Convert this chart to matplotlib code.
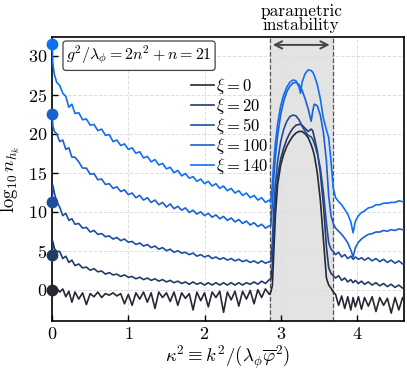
import numpy as np
import matplotlib
matplotlib.use('Agg')
import matplotlib.pyplot as plt

plt.rcParams['font.family'] = 'serif'
plt.rcParams['font.serif'] = ['cmr10', 'DejaVu Serif']
plt.rcParams['mathtext.fontset'] = 'cm'
plt.rcParams['axes.formatter.use_mathtext'] = True
plt.rcParams['font.size'] = 13

# sample positions in kappa^2 (left of band, inside band, right of band)
x_left = [0, 0.01, 0.03, 0.06, 0.1, 0.14, 0.18, 0.22, 0.26, 0.3, 0.35, 0.4, 0.45, 0.5,
          0.55, 0.6, 0.65, 0.7, 0.75, 0.8, 0.85, 0.9, 0.95, 1.0, 1.05, 1.1, 1.15, 1.2,
          1.25, 1.3, 1.35, 1.4, 1.45, 1.5, 1.55, 1.6, 1.65, 1.7, 1.75, 1.8, 1.85, 1.9,
          1.95, 2.0, 2.05, 2.1, 2.15, 2.2, 2.25, 2.3, 2.35, 2.4, 2.45, 2.5, 2.55, 2.6,
          2.65, 2.7, 2.75, 2.8, 2.85]
x_band = [2.87, 2.89, 2.91, 2.93, 2.96, 3.0, 3.04, 3.08, 3.12, 3.16, 3.2, 3.24, 3.26,
          3.28, 3.32, 3.36, 3.4, 3.42, 3.44, 3.48, 3.52, 3.56, 3.6, 3.63, 3.66, 3.69]
x_right = [3.72, 3.76, 3.8, 3.84, 3.88, 3.92, 3.95, 3.98, 4.02, 4.06, 4.1, 4.15, 4.2,
           4.25, 4.3, 4.35, 4.4, 4.45, 4.5, 4.55, 4.6, 4.63]

xi_labels = ['0', '20', '50', '100', '140']
colors = ['#262833', '#243a66', '#1e4c9e', '#1b5fd2', '#0f6ff2']

# log10 n_hk for each xi
y_xi0 = [0, 0.1, 0.3, 0.2, -0.3, 0.1, -0.9, -0.2, -1.6, -0.3, -1.2, -0.4, -1.9, -0.5,
         -0.9, -0.3, -1.0, -0.5, -0.7, -0.4, -0.8, -0.5, -1.8, -0.6, -2.0, -0.4, -1.2, -0.3,
         -1.6, -0.4, -2.4, -0.3, -1.0, -0.4, -1.5, -0.3, -2.0, -0.4, -1.1, -0.5, -2.6, -0.3,
         -1.4, -0.4, -2.2, -0.3, -1.0, -0.2, -2.9, -0.3, -1.3, -0.2, -2.1, -0.2, -1.2, -0.1,
         -1.8, 0.0, -1.0, 0.1, -0.6] + \
        [-0.3, 0.5, 5.0, 9.5, 13.5, 16.0, 17.4, 18.4, 19.1, 19.7, 20.1, 20.3, 20.3,
         20.3, 20.0, 19.5, 18.6, 18.0, 17.3, 15.0, 11.5, 6.5, 1.5, 0.6, 0.2, -0.3] + \
        [-0.6, -2.0, -0.8, -2.4, -0.9, -2.6, -1.0, -2.2, -0.9, -2.5, -1.0, -2.1, -0.9,
         -2.8, -1.0, -2.0, -1.1, -3.0, -1.0, -2.6, -1.0, -1.6]

y_xi20 = [4.5, 6.2, 5.3, 4.9, 4.9, 4.0, 4.3, 3.5, 3.8, 3.1, 3.3, 2.8, 2.9, 2.5,
          2.7, 2.3, 2.4, 2.0, 2.2, 1.9, 2.0, 1.7, 1.9, 1.6, 1.7, 1.4, 1.6, 1.3,
          1.5, 1.2, 1.4, 1.1, 1.3, 1.0, 1.2, 0.9, 1.1, 0.8, 1.0, 0.7, 1.0, 0.7,
          0.9, 0.6, 0.9, 0.6, 0.9, 0.6, 0.9, 0.6, 0.9, 0.6, 0.9, 0.6, 0.9, 0.7,
          1.0, 0.7, 1.1, 0.8, 1.3] + \
         [1.3, 3.0, 8.0, 11.5, 14.5, 16.8, 18.2, 19.3, 20.1, 20.7, 21.1, 21.2, 21.2,
          21.1, 20.7, 20.3, 20.6, 20.4, 19.6, 17.8, 15.0, 11.0, 5.5, 2.8, 2.1, 1.8] + \
         [1.5, 1.8, 1.2, 1.5, 1.0, 1.3, 0.9, 1.2, 0.8, 1.1, 0.7, 1.0, 0.6,
          0.9, 0.5, 0.8, 0.4, 0.7, 0.3, 0.6, 0.2, 0.4]

y_xi50 = [11.2, 13.4, 12.4, 11.3, 10.6, 9.5, 9.8, 8.9, 9.1, 8.4, 8.5, 7.9, 8.0, 7.4,
          7.6, 7.1, 7.2, 6.8, 6.9, 6.5, 6.7, 6.3, 6.5, 6.1, 6.2, 5.8, 6.0, 5.6,
          5.8, 5.4, 5.6, 5.2, 5.4, 5.0, 5.2, 4.8, 5.0, 4.7, 4.8, 4.5, 4.7, 4.3,
          4.5, 4.2, 4.4, 4.0, 4.2, 3.9, 4.1, 3.8, 4.0, 3.7, 3.9, 3.6, 3.8, 3.5,
          3.7, 3.4, 3.7, 3.4, 3.6] + \
         [3.6, 6.0, 10.5, 13.5, 16.5, 19.0, 20.6, 21.6, 22.2, 22.4, 22.3, 21.8, 21.4,
          21.0, 20.3, 19.8, 19.6, 19.3, 18.8, 17.5, 15.6, 12.5, 8.5, 6.0, 5.2, 4.9] + \
         [4.5, 4.8, 4.2, 4.5, 4.0, 4.3, 3.9, 4.2, 3.9, 4.1, 3.8, 4.1, 3.7,
          4.0, 3.6, 3.9, 3.5, 3.8, 3.4, 3.7, 3.3, 3.5]

y_xi100 = [22.5, 21.0, 20.3, 20.0, 19.0, 19.2, 18.0, 18.2, 17.0, 17.0, 16.4, 15.6, 15.6, 14.8,
           14.9, 14.1, 14.2, 13.5, 13.6, 13.0, 13.2, 12.6, 12.8, 12.2, 12.4, 11.8, 12.1, 11.5,
           11.8, 11.2, 11.5, 10.9, 11.2, 10.6, 11.0, 10.4, 10.7, 10.2, 10.5, 9.9, 10.2, 9.7,
           10.0, 9.5, 9.8, 9.3, 9.6, 9.1, 9.4, 8.9, 9.2, 8.7, 9.0, 8.5, 8.8, 8.3,
           8.6, 8.1, 8.4, 7.9, 8.2] + \
          [8.2, 11.0, 14.5, 17.0, 19.8, 22.5, 24.2, 25.4, 26.1, 26.5, 26.6, 26.3, 26.0,
           25.6, 24.5, 23.2, 21.6, 22.9, 23.8, 23.6, 22.4, 20.2, 16.5, 12.0, 9.5, 8.5] + \
          [7.9, 7.5, 7.1, 6.6, 6.0, 5.1, 4.2, 5.4, 6.1, 6.5, 6.8, 7.1, 7.2,
           7.4, 7.4, 7.6, 7.5, 7.7, 7.6, 7.8, 7.7, 7.8]

y_xi140 = [31.5, 29.0, 27.6, 26.6, 26.2, 25.2, 24.8, 23.4, 23.8, 22.6, 22.7, 21.8, 21.9, 21.1,
           21.2, 20.4, 20.6, 19.8, 19.9, 19.0, 19.2, 18.5, 18.7, 18.0, 18.2, 17.5, 17.7, 16.9,
           17.1, 16.4, 16.7, 16.0, 16.2, 15.5, 15.7, 15.0, 15.3, 14.6, 14.9, 14.3, 14.5, 13.9,
           14.2, 13.6, 13.9, 13.3, 13.6, 13.0, 13.3, 12.7, 13.0, 12.4, 12.7, 12.1, 12.4, 11.8,
           12.1, 11.5, 11.8, 11.2, 11.5] + \
          [11.2, 13.5, 16.5, 18.8, 21.3, 23.6, 25.0, 26.0, 26.6, 26.9, 26.8, 26.0, 25.2,
           26.6, 27.7, 28.2, 28.1, 27.9, 27.5, 26.3, 24.5, 22.0, 20.5, 19.5, 16.5, 13.0] + \
          [11.8, 11.3, 10.9, 10.3, 9.7, 8.7, 7.3, 8.8, 9.5, 9.9, 10.1, 10.5, 10.6,
           10.9, 10.9, 11.1, 11.1, 11.2, 11.2, 11.4, 11.3, 11.4]

x_all = x_left + x_band + x_right
series = [y_xi0, y_xi20, y_xi50, y_xi100, y_xi140]

band_lo, band_hi = 2.86, 3.68

fig = plt.figure(figsize=(4.07, 3.71), dpi=100)
ax = fig.add_axes([0.128, 0.135, 0.865, 0.765])

ax.axvspan(band_lo, band_hi, color='#e3e3e3', zorder=0)
ax.axvline(band_lo, color='#555555', ls='--', lw=0.9, zorder=1)
ax.axvline(band_hi, color='#555555', ls='--', lw=0.9, zorder=1)

for y, c, lab in zip(series, colors, xi_labels):
    ax.plot(x_all, y, color=c, lw=1.2, label=r'$\xi=%s$' % lab, zorder=3)
    ax.plot([0], [y[0]], 'o', color=c, ms=7.5, clip_on=False, zorder=5)

ax.annotate('', xy=(band_lo, 31.4), xytext=(band_hi, 31.4),
            arrowprops=dict(arrowstyle='<->', color='#444444', lw=1.4))
ax.text((band_lo + band_hi) / 2, 32.9, 'parametric\ninstability', ha='center',
        va='bottom', fontsize=12.5, linespacing=0.9)

ax.text(0.04, 0.975, r'$g^2/\lambda_\phi=2n^2+n=21$', transform=ax.transAxes,
        ha='left', va='top', fontsize=11.5,
        bbox=dict(boxstyle='round,pad=0.2', fc='white', ec='#444444', lw=0.9))

ax.legend(loc='upper left', bbox_to_anchor=(0.36, 0.905), frameon=False,
          handlelength=1.4, handletextpad=0.15, labelspacing=0.0, fontsize=12,
          borderpad=0.2)

ax.set_xlim(0, 4.62)
ax.set_ylim(-4, 32.4)
ax.set_xticks([0, 1, 2, 3, 4])
ax.set_yticks([0, 5, 10, 15, 20, 25, 30])
ax.tick_params(direction='in', length=4, width=1.0, labelsize=13)
ax.grid(True, ls='--', color='#dddddd', lw=0.7)
ax.set_axisbelow(True)
for s in ax.spines.values():
    s.set_linewidth(1.2)

ax.set_xlabel(r'$\kappa^2 \equiv k^2/(\lambda_\phi\overline{\varphi}^2)$', fontsize=13.5, labelpad=1)
ax.set_ylabel(r'$\log_{10} n_{h_k}$', fontsize=13.5, labelpad=4)

plt.savefig('out.png', dpi=100)
